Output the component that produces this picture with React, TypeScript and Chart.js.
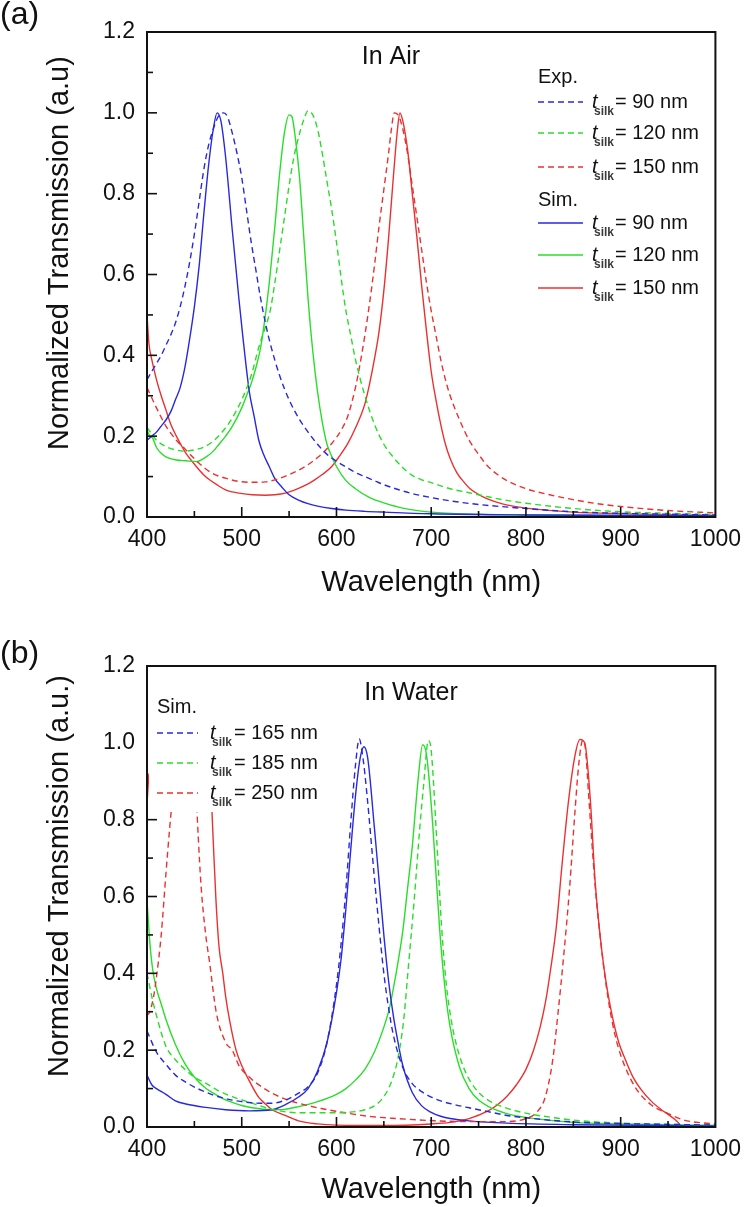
import React, { useEffect, useRef } from 'react';
import { Chart, registerables } from 'chart.js';

Chart.register(...registerables);

const FONT = '"Liberation Sans", Arial, Helvetica, sans-serif';
const BLUE = 'rgb(40,40,225)';
const GREEN = 'rgb(40,222,40)';
const RED = 'rgb(236,48,48)';
const INK = '#111111';

// ---------- tick labels ----------
const xTickLabels = ['400', '500', '600', '700', '800', '900', '1000'];
const yTickLabels = ['0.0', '0.2', '0.4', '0.6', '0.8', '1.0', '1.2'];

// ---------- panel (a): in air ----------
const expAir90 = [[400,0.34],[405,0.36],[410,0.38],[415,0.4],[420,0.425],[425,0.45],[430,0.48],[435,0.52],[440,0.57],[445,0.63],[450,0.7],[455,0.78],[460,0.86],[465,0.92],[470,0.96],[475,0.99],[481,1.0],[485,0.99],[490,0.95],[495,0.9],[500,0.84],[505,0.76],[510,0.68],[515,0.61],[520,0.54],[525,0.48],[530,0.43],[540,0.35],[550,0.29],[560,0.245],[570,0.21],[580,0.18],[590,0.155],[600,0.138],[610,0.124],[620,0.11],[630,0.1],[640,0.09],[650,0.08],[665,0.068],[680,0.058],[700,0.048],[720,0.04],[750,0.031],[800,0.021],[850,0.013],[900,0.009],[950,0.007],[1000,0.005]];
const expAir120 = [[400,0.222],[405,0.205],[410,0.19],[420,0.174],[430,0.166],[440,0.163],[450,0.166],[460,0.173],[470,0.188],[480,0.212],[490,0.245],[500,0.29],[510,0.35],[518,0.42],[525,0.47],[530,0.51],[535,0.58],[540,0.66],[545,0.74],[550,0.82],[555,0.89],[560,0.94],[565,0.98],[570,1.005],[575,0.995],[580,0.96],[585,0.9],[590,0.83],[595,0.76],[600,0.68],[605,0.59],[610,0.51],[615,0.45],[620,0.39],[630,0.3],[640,0.23],[650,0.18],[660,0.148],[670,0.122],[680,0.103],[690,0.092],[700,0.085],[720,0.07],[740,0.06],[760,0.05],[780,0.041],[800,0.034],[850,0.021],[900,0.013],[950,0.009],[1000,0.006]];
const expAir150 = [[400,0.32],[405,0.295],[410,0.27],[420,0.225],[431,0.19],[441,0.166],[455,0.133],[469,0.108],[483,0.096],[497,0.088],[511,0.086],[525,0.087],[539,0.095],[553,0.108],[567,0.125],[581,0.149],[595,0.182],[605,0.215],[612,0.25],[620,0.32],[625,0.38],[630,0.45],[635,0.53],[640,0.62],[645,0.72],[650,0.81],[655,0.9],[658,0.96],[661,1.0],[665,0.995],[670,0.96],[675,0.9],[680,0.82],[685,0.74],[690,0.66],[695,0.58],[700,0.51],[705,0.45],[710,0.39],[715,0.34],[720,0.3],[730,0.24],[740,0.19],[750,0.155],[760,0.125],[770,0.105],[780,0.09],[800,0.07],[825,0.055],[850,0.043],[875,0.033],[900,0.026],[950,0.016],[1000,0.01]];
const simAir90 = [[400,0.19],[405,0.2],[410,0.21],[415,0.225],[420,0.24],[425,0.26],[430,0.29],[435,0.32],[440,0.37],[445,0.44],[450,0.52],[455,0.62],[460,0.75],[465,0.87],[470,0.96],[474,1.0],[478,0.98],[483,0.89],[490,0.71],[497,0.54],[501,0.45],[508,0.31],[513,0.25],[518,0.19],[523,0.155],[529,0.125],[535,0.095],[542,0.075],[550,0.055],[560,0.042],[570,0.033],[580,0.027],[595,0.021],[610,0.017],[630,0.014],[650,0.012],[700,0.008],[800,0.005],[900,0.004],[1000,0.003]];
const simAir120 = [[400,0.215],[403,0.2],[406,0.195],[410,0.172],[415,0.158],[420,0.149],[431,0.141],[441,0.139],[452,0.137],[462,0.148],[470,0.163],[476,0.18],[483,0.2],[490,0.224],[500,0.27],[505,0.3],[510,0.33],[515,0.37],[520,0.42],[525,0.5],[530,0.6],[535,0.72],[540,0.85],[545,0.95],[550,0.995],[553,0.99],[557,0.93],[561,0.84],[565,0.71],[570,0.54],[575,0.41],[580,0.31],[585,0.235],[590,0.18],[595,0.15],[600,0.125],[610,0.09],[620,0.07],[635,0.048],[650,0.035],[670,0.022],[700,0.012],[750,0.007],[800,0.005],[900,0.004],[1000,0.003]];
const simAir150 = [[400,0.5],[402,0.43],[405,0.39],[410,0.34],[415,0.3],[420,0.265],[425,0.23],[431,0.2],[436,0.178],[441,0.158],[452,0.125],[460,0.104],[466,0.092],[475,0.078],[483,0.067],[490,0.062],[497,0.059],[511,0.055],[525,0.054],[535,0.055],[546,0.059],[560,0.071],[570,0.082],[577,0.092],[585,0.105],[595,0.125],[603,0.15],[612,0.182],[620,0.22],[630,0.28],[635,0.33],[640,0.39],[645,0.46],[650,0.56],[655,0.69],[660,0.84],[664,0.95],[667,1.0],[670,0.98],[675,0.91],[680,0.8],[685,0.69],[690,0.57],[695,0.46],[700,0.36],[705,0.29],[710,0.23],[715,0.18],[720,0.145],[727,0.11],[735,0.085],[741,0.07],[750,0.056],[758,0.046],[776,0.032],[800,0.022],[850,0.012],[900,0.008],[950,0.006],[1000,0.004]];

// ---------- panel (b): in water ----------
const simWater165 = [[400,0.25],[410,0.195],[420,0.163],[430,0.135],[440,0.118],[450,0.104],[460,0.093],[470,0.083],[480,0.076],[490,0.07],[500,0.066],[510,0.063],[520,0.062],[532,0.062],[546,0.07],[560,0.088],[570,0.105],[580,0.14],[590,0.22],[600,0.37],[605,0.48],[610,0.62],[615,0.79],[620,0.94],[624,1.01],[628,0.96],[632,0.87],[640,0.65],[645,0.52],[650,0.4],[655,0.31],[660,0.24],[670,0.155],[680,0.113],[690,0.092],[700,0.078],[710,0.068],[725,0.058],[740,0.05],[760,0.04],[780,0.03],[800,0.024],[850,0.013],[900,0.009],[1000,0.005]];
const simWater185 = [[400,0.4],[405,0.34],[410,0.29],[420,0.21],[430,0.175],[441,0.148],[450,0.13],[462,0.114],[475,0.095],[490,0.079],[511,0.062],[532,0.046],[560,0.037],[595,0.037],[620,0.04],[630,0.045],[640,0.055],[647,0.07],[655,0.1],[661,0.14],[665,0.18],[671,0.28],[676,0.42],[682,0.59],[688,0.78],[692,0.89],[697,1.006],[700,0.98],[706,0.74],[711,0.52],[716,0.37],[721,0.28],[727,0.21],[735,0.15],[741,0.12],[750,0.09],[760,0.07],[776,0.052],[800,0.036],[830,0.024],[850,0.018],[900,0.01],[950,0.007],[1000,0.005]];
const simWater250 = [[400,0.29],[403,0.3],[407,0.34],[410,0.39],[415,0.5],[420,0.66],[424,0.78],[427,0.86],[440,null],[452,0.86],[454,0.76],[457,0.63],[462,0.5],[466,0.43],[473,0.3],[483,0.22],[490,0.2],[497,0.16],[508,0.13],[515,0.115],[532,0.088],[549,0.07],[560,0.062],[584,0.048],[602,0.04],[619,0.033],[637,0.027],[664,0.022],[706,0.016],[740,0.014],[776,0.014],[800,0.022],[812,0.04],[820,0.075],[828,0.17],[834,0.3],[840,0.45],[846,0.62],[852,0.83],[856,0.95],[860,1.007],[863,0.98],[866,0.87],[873,0.63],[880,0.46],[887,0.33],[894,0.24],[901,0.18],[915,0.105],[932,0.058],[950,0.035],[967,0.018],[985,0.011],[1000,0.008]];
const expWater165 = [[400,0.135],[405,0.11],[410,0.1],[420,0.085],[430,0.068],[441,0.06],[462,0.051],[483,0.045],[508,0.042],[532,0.045],[546,0.058],[560,0.078],[570,0.1],[580,0.145],[590,0.22],[600,0.35],[605,0.44],[610,0.57],[615,0.72],[620,0.86],[625,0.96],[629,0.99],[633,0.96],[640,0.78],[645,0.64],[650,0.5],[655,0.38],[660,0.29],[665,0.22],[670,0.16],[680,0.09],[690,0.055],[700,0.038],[710,0.028],[720,0.022],[740,0.016],[780,0.01],[850,0.006],[1000,0.003]];
const expWater185 = [[400,0.59],[403,0.48],[406,0.41],[410,0.36],[415,0.32],[420,0.28],[430,0.215],[440,0.165],[450,0.13],[460,0.105],[470,0.088],[480,0.074],[490,0.064],[500,0.056],[511,0.05],[532,0.045],[545,0.046],[560,0.053],[580,0.066],[600,0.085],[610,0.1],[620,0.122],[630,0.15],[640,0.195],[650,0.26],[656,0.31],[660,0.36],[665,0.43],[670,0.51],[675,0.62],[680,0.73],[686,0.9],[691,0.995],[695,0.97],[700,0.84],[705,0.66],[710,0.48],[715,0.35],[720,0.26],[730,0.155],[740,0.1],[750,0.07],[760,0.054],[780,0.035],[800,0.025],[850,0.012],[900,0.008],[1000,0.004]];
const expWater250 = [[400,0.84],[402,0.92],[430,null],[468,0.86],[468.6,0.82],[470,0.74],[472.8,0.59],[476,0.47],[480,0.4],[483,0.34],[487,0.28],[494,0.2],[500,0.16],[508,0.12],[518,0.077],[525,0.06],[532,0.045],[546,0.03],[560,0.016],[580,0.008],[600,0.005],[650,0.004],[700,0.008],[720,0.012],[740,0.022],[760,0.042],[770,0.058],[780,0.08],[790,0.11],[800,0.15],[808,0.2],[815,0.26],[821,0.33],[826,0.41],[832,0.52],[838,0.68],[845,0.85],[852,0.97],[857,1.009],[862,1.0],[868,0.85],[873,0.64],[880,0.46],[885,0.37],[891,0.29],[898,0.22],[905,0.175],[913,0.13],[922,0.096],[932,0.068],[943,0.045],[950,0.033],[957,0.02],[962,0.008],[965,0.0],[1000,0.0]];

type Pair = (number | null)[];
type Series = { data: Pair[]; color: string; dashed: boolean; name: string };
type LegendItem = { color: string; dashed: boolean; value: string } | { header: string };

interface PanelSpec {
  height: number;
  padTop: number;
  xAxisHeight: number;
  tag: string;
  tagY: number;
  yTitle: string;
  yTitleY: number;
  inner: string;
  innerX: number;
  innerY: number;
  series: Series[];
  legendX: number;
  legendRows: number[];
  legendItems: LegendItem[];
  legendLine: number;
  legendTextX: number;
  legendEqGap: number;
  mask?: { x: number; w: number; value: number };
}

const panelA: PanelSpec = {
  height: 600,
  padTop: 32,
  xAxisHeight: 83,
  tag: '(a)',
  tagY: 15,
  yTitle: 'Normalized Transmission (a.u)',
  yTitleY: 253,
  inner: 'In Air',
  innerX: 391,
  innerY: 57,
  series: [
    { name: 'Exp. 90', data: expAir90, color: BLUE, dashed: true },
    { name: 'Exp. 120', data: expAir120, color: GREEN, dashed: true },
    { name: 'Exp. 150', data: expAir150, color: RED, dashed: true },
    { name: 'Sim. 90', data: simAir90, color: BLUE, dashed: false },
    { name: 'Sim. 120', data: simAir120, color: GREEN, dashed: false },
    { name: 'Sim. 150', data: simAir150, color: RED, dashed: false },
  ],
  legendX: 538,
  legendRows: [77, 102, 133, 167, 200, 223, 255, 288],
  legendItems: [
    { header: 'Exp.' },
    { color: BLUE, dashed: true, value: '90' },
    { color: GREEN, dashed: true, value: '120' },
    { color: RED, dashed: true, value: '150' },
    { header: 'Sim.' },
    { color: BLUE, dashed: false, value: '90' },
    { color: GREEN, dashed: false, value: '120' },
    { color: RED, dashed: false, value: '150' },
  ],
  legendLine: 45,
  legendTextX: 592,
  legendEqGap: 23,
};

const panelB: PanelSpec = {
  height: 607,
  padTop: 66,
  xAxisHeight: 80,
  tag: '(b)',
  tagY: 54,
  yTitle: 'Normalized Transmission (a.u.)',
  yTitleY: 276,
  inner: 'In Water',
  innerX: 411,
  innerY: 93,
  series: [
    { name: 'Sim. 165', data: simWater165, color: BLUE, dashed: true },
    { name: 'Sim. 185', data: simWater185, color: GREEN, dashed: true },
    { name: 'Sim. 250', data: simWater250, color: RED, dashed: true },
    { name: 'Exp. 165', data: expWater165, color: BLUE, dashed: false },
    { name: 'Exp. 185', data: expWater185, color: GREEN, dashed: false },
    { name: 'Exp. 250', data: expWater250, color: RED, dashed: false },
  ],
  legendX: 157,
  legendRows: [107, 133, 163, 193],
  legendItems: [
    { header: 'Sim.' },
    { color: BLUE, dashed: true, value: '165' },
    { color: GREEN, dashed: true, value: '185' },
    { color: RED, dashed: true, value: '250' },
  ],
  legendLine: 41,
  legendTextX: 210,
  legendEqGap: 24,
  mask: { x: 149, w: 190, value: 0.82 },
};

const decorPlugin = {
  id: 'decor',
  afterDraw(chart: any, _args: any, opts: any) {
    const spec: PanelSpec = opts.spec;
    const { ctx, chartArea: ca, scales } = chart;
    const xs = scales.x;
    const ys = scales.y;
    ctx.save();

    if (spec.mask) {
      const yb = ys.getPixelForValue(spec.mask.value);
      ctx.fillStyle = '#ffffff';
      ctx.fillRect(spec.mask.x, ca.top + 1, spec.mask.w, yb - ca.top - 1);
    }

    // frame
    ctx.setLineDash([]);
    ctx.strokeStyle = INK;
    ctx.lineWidth = 2;
    ctx.strokeRect(ca.left, ca.top, ca.right - ca.left, ca.bottom - ca.top);

    // inward ticks
    ctx.lineWidth = 1.6;
    for (const t of xs.ticks) {
      const px = xs.getPixelForValue(t.value);
      if (px <= ca.left + 1 || px >= ca.right - 1) continue;
      const major = Math.round(t.value - 400) % 100 === 0;
      ctx.beginPath();
      ctx.moveTo(px, ca.bottom);
      ctx.lineTo(px, ca.bottom - (major ? 10 : 6));
      ctx.stroke();
    }
    const maskBottom = spec.mask ? ys.getPixelForValue(spec.mask.value) : -1;
    for (const t of ys.ticks) {
      const py = ys.getPixelForValue(t.value);
      if (py <= ca.top + 1 || py >= ca.bottom - 1) continue;
      if (spec.mask && py < maskBottom) continue;
      const major = Math.round(t.value * 10) % 2 === 0;
      ctx.beginPath();
      ctx.moveTo(ca.left, py);
      ctx.lineTo(ca.left + (major ? 10 : 6), py);
      ctx.stroke();
    }

    ctx.fillStyle = INK;
    // panel tag
    ctx.font = `32px ${FONT}`;
    ctx.textAlign = 'left';
    ctx.textBaseline = 'middle';
    ctx.fillText(spec.tag, 0, spec.tagY);

    // y title
    ctx.save();
    ctx.translate(60, spec.yTitleY);
    ctx.rotate(-Math.PI / 2);
    ctx.font = `29px ${FONT}`;
    ctx.textAlign = 'center';
    ctx.textBaseline = 'middle';
    ctx.fillText(spec.yTitle, 0, 0);
    ctx.restore();

    // inner title
    ctx.font = `25px ${FONT}`;
    ctx.textAlign = 'center';
    ctx.textBaseline = 'middle';
    ctx.fillText(spec.inner, spec.innerX, spec.innerY);

    // legend
    spec.legendItems.forEach((item, i) => {
      const y = spec.legendRows[i];
      if ('header' in item) {
        ctx.fillStyle = INK;
        ctx.font = `20px ${FONT}`;
        ctx.textAlign = 'left';
        ctx.textBaseline = 'middle';
        ctx.fillText(item.header, spec.legendX, y);
        return;
      }
      ctx.strokeStyle = item.color;
      ctx.lineWidth = 1.4;
      ctx.setLineDash(item.dashed ? [6, 4] : []);
      ctx.beginPath();
      ctx.moveTo(spec.legendX, y);
      ctx.lineTo(spec.legendX + spec.legendLine, y);
      ctx.stroke();
      ctx.setLineDash([]);
      ctx.fillStyle = INK;
      ctx.textAlign = 'left';
      ctx.textBaseline = 'middle';
      ctx.font = `italic 20px ${FONT}`;
      ctx.fillText('t', spec.legendTextX, y);
      ctx.fillStyle = '#3a3a3a';
      ctx.font = `bold 12px ${FONT}`;
      ctx.fillText('silk', spec.legendTextX + 2, y + 10);
      ctx.fillStyle = INK;
      ctx.font = `20px ${FONT}`;
      ctx.fillText(`= ${item.value} nm`, spec.legendTextX + spec.legendEqGap, y);
    });

    ctx.restore();
  },
};

function buildConfig(spec: PanelSpec): any {
  return {
    type: 'line',
    data: {
      datasets: spec.series.map((s) => ({
        label: s.name,
        data: s.data.map(([x, y]) => ({ x, y })),
        borderColor: s.color,
        backgroundColor: s.color,
        borderWidth: 1.4,
        borderDash: s.dashed ? [6, 4] : [],
        pointRadius: 0,
        fill: false,
        cubicInterpolationMode: 'monotone',
        spanGaps: false,
      })),
    },
    options: {
      responsive: false,
      animation: false,
      devicePixelRatio: 1,
      layout: { padding: { top: spec.padTop, right: 29, left: 0, bottom: 0 } },
      plugins: {
        legend: { display: false },
        tooltip: { enabled: false },
        title: { display: false },
        decor: { spec },
      },
      scales: {
        x: {
          type: 'linear',
          min: 400,
          max: 1000,
          grid: { display: false, drawTicks: false },
          border: { display: false },
          ticks: {
            stepSize: 50,
            autoSkip: false,
            maxRotation: 0,
            padding: 9,
            color: INK,
            font: { family: FONT, size: 23 },
            callback: (v: number) => {
              const k = Math.round((v - 400) / 50);
              return k % 2 === 0 ? xTickLabels[k / 2] : '';
            },
          },
          title: {
            display: true,
            text: 'Wavelength (nm)',
            color: INK,
            font: { family: FONT, size: 29 },
            padding: 0,
          },
          afterFit: (s: any) => {
            s.height = spec.xAxisHeight;
          },
        },
        y: {
          type: 'linear',
          min: 0,
          max: 1.2,
          grid: { display: false, drawTicks: false },
          border: { display: false },
          ticks: {
            stepSize: 0.1,
            autoSkip: false,
            padding: 12,
            color: INK,
            font: { family: FONT, size: 23 },
            callback: (v: number) => {
              const k = Math.round(v * 10);
              return k % 2 === 0 ? yTickLabels[k / 2] : '';
            },
          },
          afterFit: (s: any) => {
            s.width = 147;
          },
        },
      },
    },
    plugins: [decorPlugin],
  };
}

function Panel({ spec }: { spec: PanelSpec }) {
  const ref = useRef<HTMLCanvasElement>(null);
  useEffect(() => {
    if (!ref.current) return;
    const chart = new Chart(ref.current, buildConfig(spec));
    return () => chart.destroy();
  }, [spec]);
  return (
    <canvas
      ref={ref}
      width={750}
      height={spec.height}
      style={{ display: 'block', width: 750, height: spec.height }}
    />
  );
}

export default function App() {
  useEffect(() => {
    document.body.style.margin = '0';
    document.body.style.background = '#ffffff';
  }, []);
  return (
    <div style={{ width: 750, background: '#ffffff' }}>
      <Panel spec={panelA} />
      <Panel spec={panelB} />
    </div>
  );
}
